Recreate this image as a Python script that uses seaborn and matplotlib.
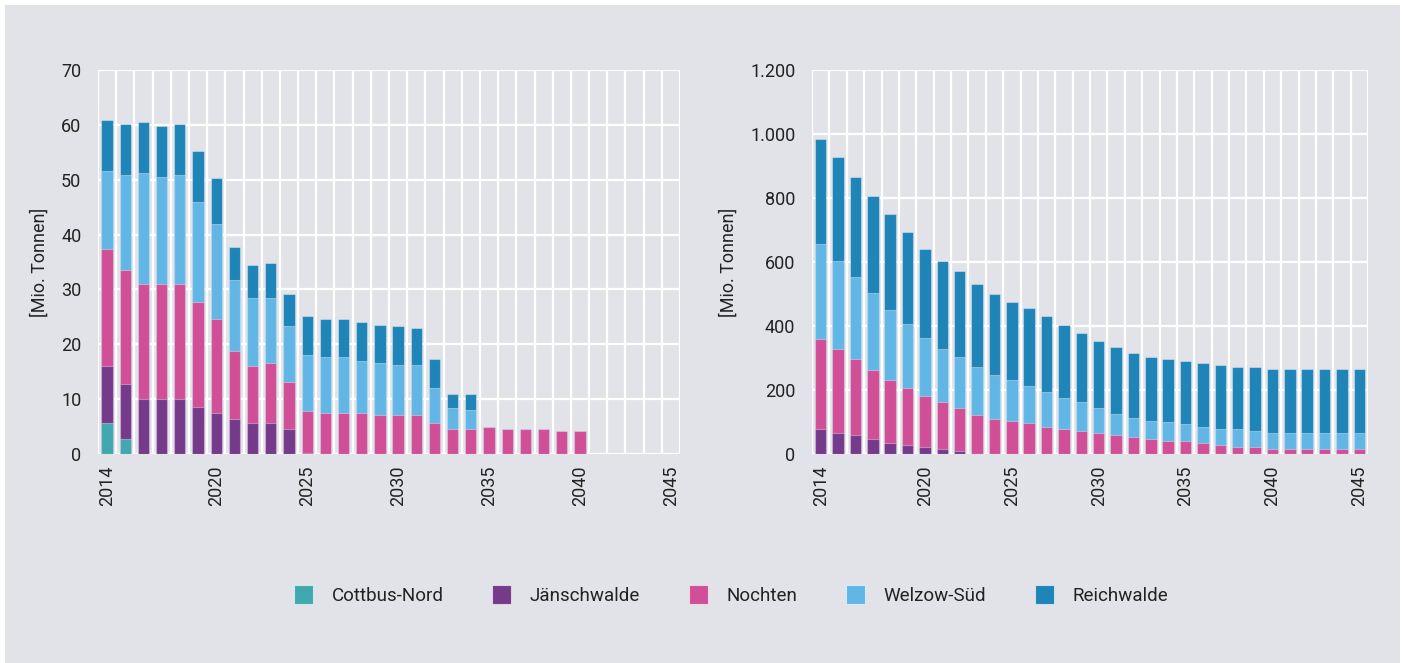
import numpy as np
import pandas as pd
import matplotlib
matplotlib.use("Agg")
import matplotlib.pyplot as plt
from matplotlib.patches import Patch, Rectangle
from matplotlib.ticker import FuncFormatter
import seaborn as sns

# ---- data -----------------------------------------------------------------
years = list(range(2014, 2046))
sites = ["Cottbus-Nord", "Jänschwalde", "Nochten", "Welzow-Süd", "Reichwalde"]
site_colors = ["#41a8b0", "#763a8a", "#d14f96", "#62b6e6", "#1f84b8"]

# annual output per site [Mio. Tonnen]
cottbus_annual = [5.7, 2.7]
jaensch_annual = [10.4, 10.1, 10.1, 10.1, 10.1, 8.6, 7.5, 6.4, 5.7, 5.7, 4.6, 0.2]
nochten_annual = [21.3, 20.8, 20.9, 20.9, 20.9, 19.1, 17.2, 12.4, 10.4, 10.8, 8.6,
                  7.7, 7.5, 7.5, 7.5, 7.2, 7.2, 7.2, 5.7, 4.6, 4.6, 5.0, 4.6, 4.6,
                  4.6, 4.2, 4.2]
welzow_annual = [14.2, 17.3, 20.3, 19.5, 19.9, 18.3, 17.2, 13.0, 12.4, 12.0, 10.1,
                 10.1, 10.2, 10.2, 9.5, 9.4, 9.0, 9.0, 6.4, 3.8, 3.4]
reich_annual = [9.3, 9.3, 9.2, 9.3, 9.3, 9.3, 8.5, 6.0, 6.0, 6.3, 5.9,
                7.1, 7.0, 7.0, 7.0, 7.0, 7.1, 6.7, 5.2, 2.5, 2.9]

# remaining reserves per site [Mio. Tonnen]
jaensch_reserve = [78, 67, 60, 47, 34, 27, 21, 15, 8]
nochten_reserve = [281, 261, 236, 217, 198, 180, 161, 148, 136, 123, 110,
                   103, 97, 84, 78, 72, 66, 59, 53, 47, 41, 41, 34, 28, 21, 21, 15,
                   15, 15, 15, 15, 15]
welzow_reserve = [296, 275, 256, 238, 218, 199, 179, 166, 159, 149, 136,
                  129, 116, 110, 97, 91, 78, 65, 58, 57, 58, 52, 51, 51, 58, 52, 52,
                  52, 52, 52, 52, 52]
reich_reserve = [330, 326, 313, 305, 300, 287, 281, 274, 268, 260, 255,
                 242, 242, 236, 229, 216, 209, 210, 204, 198, 197, 197, 198, 198, 192, 198, 198,
                 198, 198, 198, 198, 198]

tick_years = [2014, 2020, 2025, 2030, 2035, 2040, 2045]


def pad(values):
    return list(values) + [0.0] * (len(years) - len(values))


def frame(series):
    df = pd.DataFrame({"year": years})
    for name, vals in zip(sites, series):
        df[name] = pad(vals)
    return df


annual = frame([cottbus_annual, jaensch_annual, nochten_annual, welzow_annual, reich_annual])
reserve = frame([[], jaensch_reserve, nochten_reserve, welzow_reserve, reich_reserve])

# ---- style ----------------------------------------------------------------
bg = "#e2e3e8"
text_col = "#222222"
sns.set_style("white")
plt.rcParams["font.family"] = ["Roboto", "DejaVu Sans"]
plt.rcParams["text.color"] = text_col

fig = plt.figure(figsize=(14.02, 6.63), dpi=100, facecolor="white")
fig.patches.append(Rectangle((5 / 1402, 0), 1395 / 1402, 658 / 663,
                             transform=fig.transFigure, facecolor=bg,
                             edgecolor="none", zorder=-10))

ax_l = fig.add_axes([98 / 1402, 1 - 454 / 663, 582 / 1402, 384 / 663])
ax_r = fig.add_axes([812 / 1402, 1 - 454 / 663, 556 / 1402, 384 / 663])


def stacked(ax, df, ymax, ystep, width):
    cum = df[sites].cumsum(axis=1)
    # draw the running totals from the top layer down so each lower layer covers the one above
    for name, col in reversed(list(zip(sites, site_colors))):
        sns.barplot(x=df["year"], y=cum[name], order=years, color=col,
                    saturation=1, width=width, linewidth=0.8,
                    edgecolor=(1, 1, 1, 0.35), ax=ax, zorder=3)
    ax.set_facecolor(bg)
    ax.set_xlim(-0.5, len(years) - 0.5)
    ax.set_ylim(0, ymax)
    ax.set_yticks(np.arange(0, ymax + 1, ystep))
    ax.set_xticks([years.index(y) for y in tick_years])
    ax.set_xticklabels([str(y) for y in tick_years], rotation=90)
    ax.set_xticks(np.arange(-0.5, len(years), 1), minor=True)
    ax.grid(False)
    ax.grid(True, which="minor", axis="x", color="white", linewidth=1.6)
    ax.grid(True, which="major", axis="y", color="white", linewidth=1.6)
    ax.set_axisbelow(True)
    for s in ax.spines.values():
        s.set_visible(False)
    ax.tick_params(which="both", length=0)
    ax.tick_params(axis="y", labelsize=13, pad=12, colors=text_col)
    ax.tick_params(axis="x", labelsize=13, pad=8, colors=text_col)
    ax.set_xlabel("")
    ax.set_ylabel("[Mio. Tonnen]", fontsize=13, color=text_col, labelpad=9)


stacked(ax_l, annual, 70, 10, 0.62)
stacked(ax_r, reserve, 1200, 200, 0.66)
ax_r.yaxis.set_major_formatter(FuncFormatter(lambda v, _: f"{int(v):,}".replace(",", ".")))

handles = [Patch(facecolor=c, edgecolor=(1, 1, 1, 0.6), linewidth=0.8) for c in site_colors]
fig.legend(handles, sites, loc="center", bbox_to_anchor=(731 / 1402, 1 - 595 / 663),
           ncol=5, frameon=False, fontsize=13.5, handlelength=1.0, handleheight=1.2,
           handletextpad=1.0, columnspacing=2.6)

fig.savefig("out.png", dpi=100, facecolor="white")
